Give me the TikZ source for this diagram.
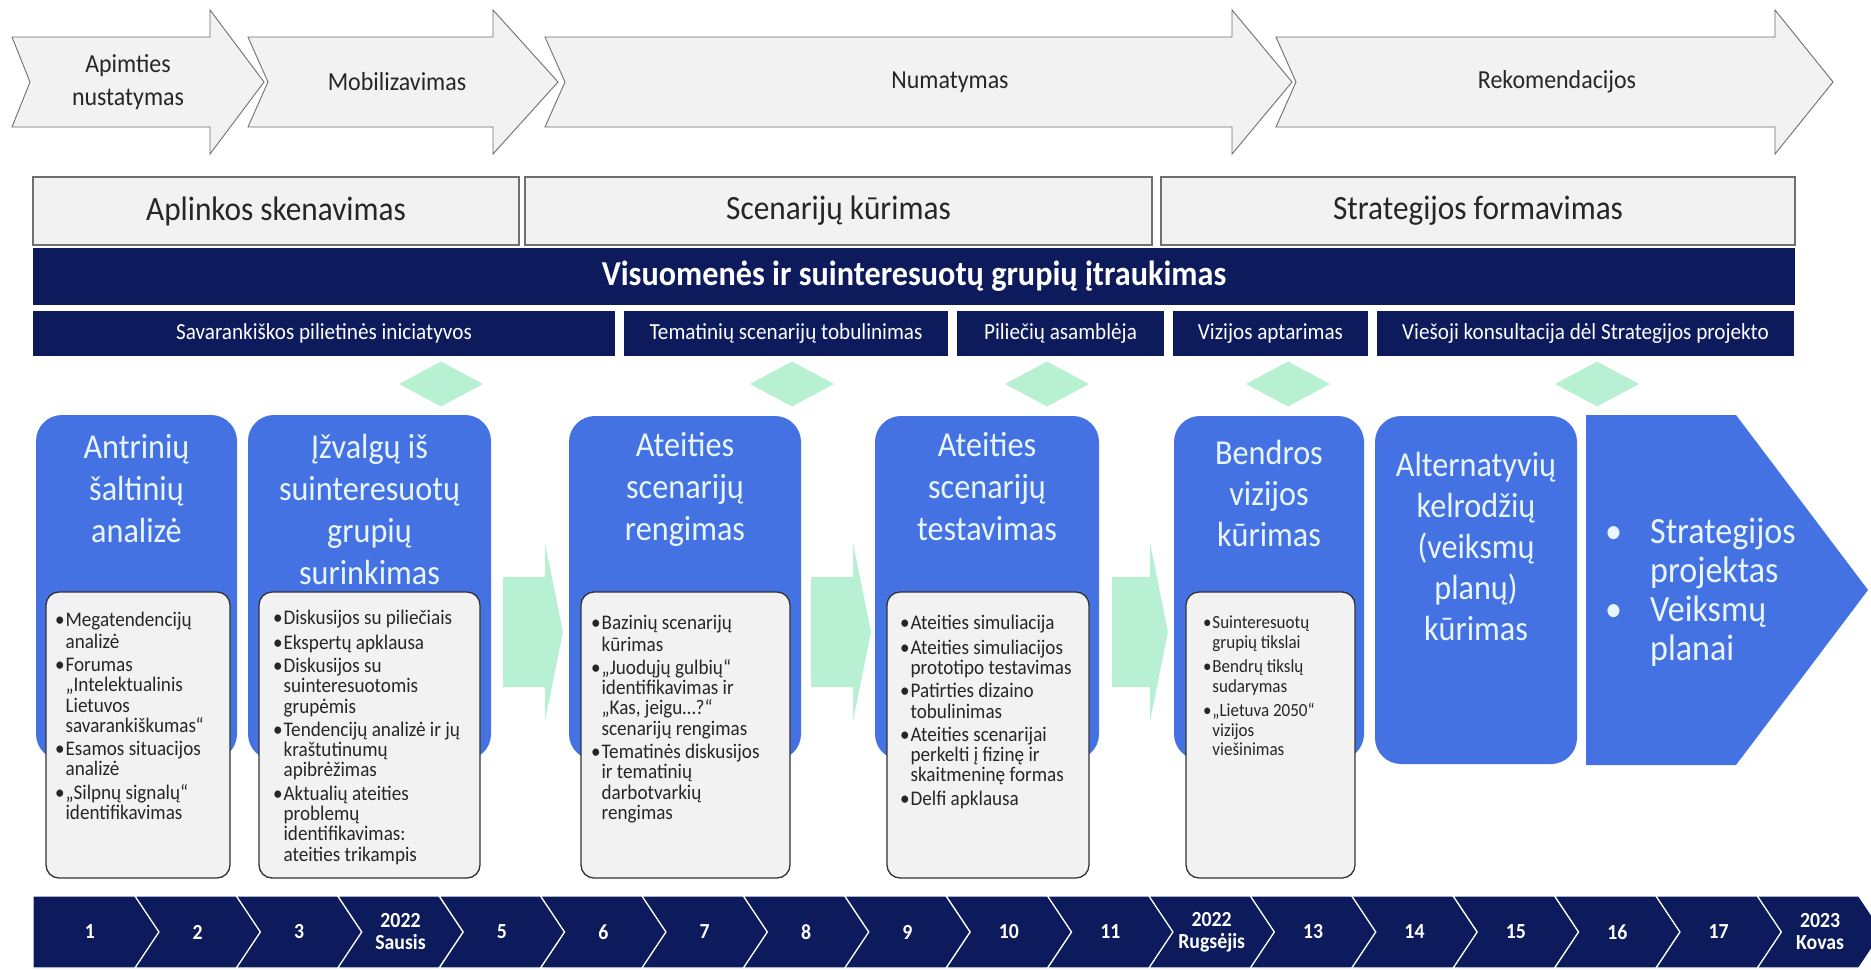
\documentclass[tikz,border=0pt]{standalone}
\usepackage{fontspec}
\setmainfont{Carlito}[FakeStretch=0.92]
\usetikzlibrary{shapes.geometric}
\definecolor{navyc}{HTML}{0D1B5C}
\definecolor{bluec}{HTML}{4472E3}
\definecolor{mintc}{HTML}{B8F0D4}
\definecolor{paleg}{HTML}{F2F2F2}
\definecolor{edgeg}{HTML}{6F6F6F}
\definecolor{txtc}{HTML}{262626}
\definecolor{titc}{HTML}{EAF6FF}
\newcommand\bitem{\makebox[0.5em][l]{•}}
\newcommand\cind{\hspace*{0.5em}}
\begin{document}
\begin{tikzpicture}[x=1pt,y=-1pt,
  arrowshape/.style={fill=paleg, draw=edgeg, line width=0.9pt, line join=miter},
  arrtext/.style={font=\fontsize{26}{33}\selectfont, text=txtc, align=center, inner sep=0},
  graybox/.style={rectangle, fill=paleg, draw=edgeg, line width=1.3pt, inner sep=0, font=\fontsize{34}{40}\selectfont, text=txtc},
  band/.style={rectangle, fill=navyc, inner sep=0, text=white},
  subband/.style={band, minimum height=45, font=\fontsize{23}{26}\selectfont},
  diam/.style={diamond, fill=mintc, inner sep=0, minimum width=84, minimum height=45},
  bluebox/.style={rectangle, rounded corners=26, fill=bluec, inner sep=0},
  whitebox/.style={rectangle, rounded corners=13, fill=paleg, draw=black!80, line width=1.3pt, inner sep=0, minimum height=286},
  titletext/.style={font=\fontsize{35}{42}\selectfont, text=titc, align=center, inner sep=0, anchor=north},
  titletextb/.style={titletext, font=\fontsize{35}{41}\selectfont},
  wtext/.style={font=\fontsize{20.8}{20.3}\selectfont, text=txtc, align=left, inner sep=0, anchor=north west},
  greenarrow/.style={fill=mintc},
  seg/.style={fill=navyc, draw=white, line width=1.2pt, line join=miter},
  tltext/.style={font=\fontsize{21.5}{22}\selectfont\bfseries, text=white, align=center, inner sep=0}
]
\useasboundingbox (0,0) rectangle (1871,969);
\clip (0,0) rectangle (1871,969);
\fill[white] (0,0) rectangle (1871,969);

% top process arrows
\draw[arrowshape] (12,37) -- (210,37) -- (210,10) -- (264,82) -- (210,154) -- (210,127) -- (12,127) -- (30,82) -- cycle;
\draw[arrowshape] (248,37) -- (493,37) -- (493,10) -- (558,82) -- (493,154) -- (493,127) -- (248,127) -- (268,82) -- cycle;
\draw[arrowshape] (545,37) -- (1232,37) -- (1232,10) -- (1292,82) -- (1232,154) -- (1232,127) -- (545,127) -- (565,82) -- cycle;
\draw[arrowshape] (1276,37) -- (1775,37) -- (1775,10) -- (1833,82) -- (1775,154) -- (1775,127) -- (1276,127) -- (1296,82) -- cycle;
\node[arrtext] (a1) at (128,82) {Apimties\\nustatymas};
\node[arrtext] (a2) at (397,82) {Mobilizavimas};
\node[arrtext] (a3) at (950,82) {Numatymas};
\node[arrtext] (a4) at (1557,82) {Rekomendacijos};

% phase boxes
\node[graybox, minimum width=486, minimum height=68] (g1) at (276,211) {Aplinkos skenavimas};
\node[graybox, minimum width=627, minimum height=68] (g2) at (838.5,211) {Scenarijų kūrimas};
\node[graybox, minimum width=634, minimum height=68] (g3) at (1478,211) {Strategijos formavimas};

% engagement band
\node[band, minimum width=1762, minimum height=57, font=\fontsize{35}{40}\selectfont\bfseries] (vis) at (914,276.5) {Visuomenės ir suinteresuotų grupių įtraukimas};
\node[subband, minimum width=582] (s1) at (324,333.5) {Savarankiškos pilietinės iniciatyvos};
\node[subband, minimum width=324] (s2) at (786,333.5) {Tematinių scenarijų tobulinimas};
\node[subband, minimum width=207] (s3) at (1060.5,333.5) {Piliečių asamblėja};
\node[subband, minimum width=195] (s4) at (1270.5,333.5) {Vizijos aptarimas};
\node[subband, minimum width=417] (s5) at (1585.5,333.5) {Viešoji konsultacija dėl Strategijos projekto};

% diamonds
\node[diam] (d1) at (441,384) {};
\node[diam] (d2) at (792,384) {};
\node[diam] (d3) at (1047,384) {};
\node[diam] (d4) at (1288,384) {};
\node[diam] (d5) at (1597,384) {};

% blue step boxes
\node[bluebox, minimum width=201, minimum height=345] (b1) at (136.5,587.5) {};
\node[bluebox, minimum width=243, minimum height=345] (b2) at (369.5,587.5) {};
\node[bluebox, minimum width=232, minimum height=344] (b3) at (685,588) {};
\node[bluebox, minimum width=224, minimum height=344] (b4) at (987,588) {};
\node[bluebox, minimum width=190, minimum height=344] (b5) at (1269,588) {};
\node[bluebox, minimum width=202, minimum height=348] (b6) at (1476,590) {};
\fill[bluec] (1586,415) -- (1736,415) -- (1868,590) -- (1736,765) -- (1586,765) -- cycle;

% green arrows
\fill[greenarrow] (503,577) -- (545,577) -- (545,543) -- (563,632) -- (545,721) -- (545,687) -- (503,687) -- cycle;
\fill[greenarrow] (811,577) -- (853,577) -- (853,543) -- (871,632) -- (853,721) -- (853,687) -- (811,687) -- cycle;
\fill[greenarrow] (1112,577) -- (1150,577) -- (1150,543) -- (1168,632) -- (1150,721) -- (1150,687) -- (1112,687) -- cycle;

% titles
\node[titletext] (b1t) at (136.5,429) {\strut Antrinių\\šaltinių\\analizė};
\node[titletext] (b2t) at (369.5,429) {\strut Įžvalgų iš\\suinteresuotų\\grupių\\surinkimas};
\node[titletext] (b3t) at (685,427) {\strut Ateities\\scenarijų\\rengimas};
\node[titletext] (b4t) at (987,427) {\strut Ateities\\scenarijų\\testavimas};
\node[titletextb] (b5t) at (1269,436) {\strut Bendros\\vizijos\\kūrimas};
\node[titletextb] (b6t) at (1476,448) {\strut Alternatyvių\\kelrodžių\\(veiksmų\\planų)\\kūrimas};
\node[titletext, font=\fontsize{37}{39}\selectfont, anchor=north west, align=left] (b7t) at (1605,516) {\strut\makebox[45pt][l]{•}Strategijos\\\hspace*{45pt}projektas\\\makebox[45pt][l]{•}Veiksmų\\\hspace*{45pt}planai};

% white detail boxes
\node[whitebox, minimum width=184] (w1) at (138,735) {};
\node[whitebox, minimum width=221] (w2) at (369.5,735) {};
\node[whitebox, minimum width=209] (w3) at (685.5,735) {};
\node[whitebox, minimum width=202] (w4) at (988,735) {};
\node[whitebox, minimum width=169] (w5) at (1270.5,735) {};

\node[wtext] (w1t) at (55,612) {\strut\bitem Megatendencijų\\\cind analizė\\[3pt]\bitem Forumas\\\cind „Intelektualinis\\\cind Lietuvos\\\cind savarankiškumas“\\[3pt]\bitem Esamos situacijos\\\cind analizė\\[3pt]\bitem „Silpnų signalų“\\\cind identifikavimas};
\node[wtext] (w2t) at (273,610) {\strut\bitem Diskusijos su piliečiais\\[3pt]\bitem Ekspertų apklausa\\[3pt]\bitem Diskusijos su\\\cind suinteresuotomis\\\cind grupėmis\\[3pt]\bitem Tendencijų analizė ir jų\\\cind kraštutinumų\\\cind apibrėžimas\\[3pt]\bitem Aktualių ateities\\\cind problemų\\\cind identifikavimas:\\\cind ateities trikampis};
\node[wtext] (w3t) at (591,615) {\strut\bitem Bazinių scenarijų\\\cind kūrimas\\[3pt]\bitem „Juodųjų gulbių“\\\cind identifikavimas ir\\\cind „Kas, jeigu…?“\\\cind scenarijų rengimas\\[3pt]\bitem Tematinės diskusijos\\\cind ir tematinių\\\cind darbotvarkių\\\cind rengimas};
\node[wtext] (w4t) at (900,615) {\strut\bitem Ateities simuliacija\\[3pt]\bitem Ateities simuliacijos\\\cind prototipo testavimas\\[3pt]\bitem Patirties dizaino\\\cind tobulinimas\\[3pt]\bitem Ateities scenarijai\\\cind perkelti į fizinę ir\\\cind skaitmeninę formas\\[3pt]\bitem Delfi apklausa};
\node[wtext, font=\fontsize{18.5}{19.5}\selectfont] (w5t) at (1203,615) {\strut\bitem Suinteresuotų\\\cind grupių tikslai\\[5pt]\bitem Bendrų tikslų\\\cind sudarymas\\[5pt]\bitem „Lietuva 2050“\\\cind vizijos\\\cind viešinimas};

% timeline
\foreach \k/\lab in {1/1,2/2,3/3,4/{2022\\Sausis},5/5,6/6,7/7,8/8,9/9,10/10,11/11,12/{2022\\Rugsėjis},13/13,14/14,15/15,16/16,17/17,18/{2023\\Kovas}}{
  \pgfmathsetmacro\ar{159+101.4*(\k-1)}
  \pgfmathsetmacro\al{159+101.4*(\k-2)}
  \ifnum\k=1
    \path[seg] (33,896) -- (\ar-24,896) -- (\ar,932) -- (\ar-24,968) -- (33,968) -- cycle;
    \node[tltext] (t\k) at (90,932) {\lab};
  \else
    \path[seg] (\al-24,896) -- (\ar-24,896) -- (\ar,932) -- (\ar-24,968) -- (\al-24,968) -- (\al,932) -- cycle;
    \pgfmathsetmacro\cx{(\al+\ar)/2-12}
    \node[tltext] (t\k) at (\cx,932) {\lab};
  \fi
}
\end{tikzpicture}
\end{document}
